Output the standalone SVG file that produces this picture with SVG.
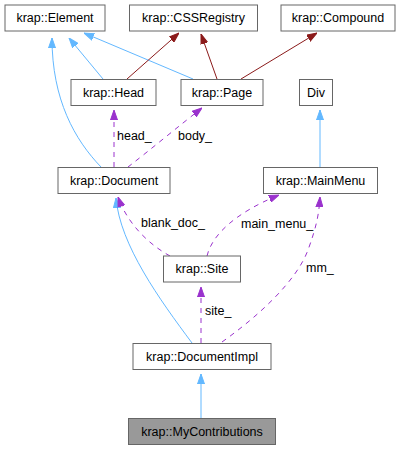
<svg xmlns="http://www.w3.org/2000/svg" width="401" height="449" viewBox="0 0 401 449">
<style>
.n rect{fill:#ffffff;stroke:#666666;stroke-width:1}
.n text{font-family:"Liberation Sans",Arial,sans-serif;font-size:12.5px;text-anchor:middle;fill:#000}
.lbl{font-family:"Liberation Sans",Arial,sans-serif;font-size:12.5px;fill:#000}
.b{fill:none;stroke:#63b8ff;stroke-width:1}
.r{fill:none;stroke:#8b1a1a;stroke-width:1}
.p{fill:none;stroke:#9a32cd;stroke-width:1;stroke-dasharray:5,5}
</style>
<defs>
<marker id="ab" markerWidth="10" markerHeight="8" refX="10" refY="4" orient="auto" markerUnits="userSpaceOnUse"><path d="M0,0.5 L10,4 L0,7.5 z" fill="#63b8ff" stroke="#63b8ff"/></marker>
<marker id="ar" markerWidth="10" markerHeight="8" refX="10" refY="4" orient="auto" markerUnits="userSpaceOnUse"><path d="M0,0.5 L10,4 L0,7.5 z" fill="#8b1a1a" stroke="#8b1a1a"/></marker>
<marker id="ap" markerWidth="10" markerHeight="8" refX="10" refY="4" orient="auto" markerUnits="userSpaceOnUse"><path d="M0,0.5 L10,4 L0,7.5 z" fill="#9a32cd" stroke="#9a32cd"/></marker>
</defs>
<rect width="401" height="449" fill="#ffffff"/>
<g id="edges">
<path class="b" d="M103,79 L69,38" marker-end="url(#ab)"/>
<path class="b" d="M193,79 L84,33" marker-end="url(#ab)"/>
<path class="b" d="M101,167 C75,140 52,100 52,38" marker-end="url(#ab)"/>
<path class="b" d="M192,343 C160,300 120,245 116,198" marker-end="url(#ab)"/>
<path class="b" d="M201,418 L201,374" marker-end="url(#ab)"/>
<path class="b" d="M320,167 L320,110" marker-end="url(#ab)"/>
<path class="r" d="M127,79 L179,33" marker-end="url(#ar)"/>
<path class="r" d="M217,79 L201,34" marker-end="url(#ar)"/>
<path class="r" d="M241,79 L317,33" marker-end="url(#ar)"/>
<path class="p" d="M114,167 L114,110" marker-end="url(#ap)"/>
<path class="p" d="M128,167 C150,150 180,125 202,108" marker-end="url(#ap)"/>
<path class="p" d="M170,256 C150,245 128,225 118,197" marker-end="url(#ap)"/>
<path class="p" d="M207,256 C212,235 235,213 279,195" marker-end="url(#ap)"/>
<path class="p" d="M201,343 L201,287" marker-end="url(#ap)"/>
<path class="p" d="M222,342 C260,315 297,280 308,250 C316,228 319,215 320,197" marker-end="url(#ap)"/>
<text class="lbl" x="117" y="140">head_</text>
<text class="lbl" x="178" y="140">body_</text>
<text class="lbl" x="141" y="227">blank_doc_</text>
<text class="lbl" x="241" y="228">main_menu_</text>
<text class="lbl" x="205" y="315">site_</text>
<text class="lbl" x="306" y="272">mm_</text>
</g>
<g id="element" class="n"><rect x="5" y="5" width="100" height="26"/><text x="55" y="22">krap::Element</text></g>
<g id="cssregistry" class="n"><rect x="129.5" y="5" width="128" height="26"/><text x="193.5" y="22">krap::CSSRegistry</text></g>
<g id="compound" class="n"><rect x="281" y="5" width="114" height="26"/><text x="338" y="22">krap::Compound</text></g>
<g id="head" class="n"><rect x="71" y="79.5" width="85" height="26"/><text x="113.5" y="96.5">krap::Head</text></g>
<g id="page" class="n"><rect x="181" y="79.5" width="82" height="26"/><text x="222" y="96.5">krap::Page</text></g>
<g id="div" class="n"><rect x="299.5" y="79.5" width="33" height="26"/><text x="316" y="96.5">Div</text></g>
<g id="document" class="n"><rect x="58" y="167.5" width="112" height="26"/><text x="114" y="184.5">krap::Document</text></g>
<g id="mainmenu" class="n"><rect x="263.5" y="167.5" width="114" height="26"/><text x="320.5" y="184.5">krap::MainMenu</text></g>
<g id="site" class="n"><rect x="163.5" y="256" width="77" height="26"/><text x="202" y="273">krap::Site</text></g>
<g id="documentimpl" class="n"><rect x="133" y="343.5" width="138" height="26"/><text x="202" y="360.5">krap::DocumentImpl</text></g>
<g id="mycontributions" class="n"><rect x="128.5" y="418.5" width="147" height="26" style="fill:#999999"/><text x="202" y="435.5">krap::MyContributions</text></g>
</svg>
